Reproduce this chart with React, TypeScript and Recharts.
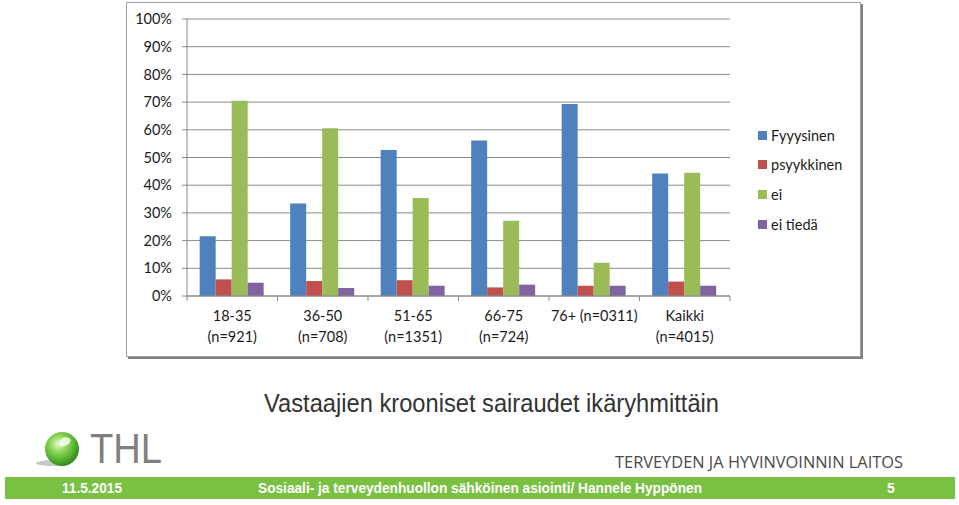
import React from "react";
import { BarChart, Bar, XAxis, YAxis, CartesianGrid } from "recharts";

// age groups (x axis), two-line labels
const groups = [
  "18-35\n(n=921)",
  "36-50\n(n=708)",
  "51-65\n(n=1351)",
  "66-75\n(n=724)",
  "76+ (n=0311)",
  "Kaikki\n(n=4015)",
];

// percent values
const fyysinen = [21.6, 33.4, 52.7, 56.1, 69.3, 44.2];
const psyykkinen = [6.0, 5.4, 5.7, 3.1, 3.7, 5.2];
const ei = [70.5, 60.6, 35.4, 27.2, 12.0, 44.5];
const eiTieda = [4.8, 2.9, 3.7, 4.1, 3.7, 3.7];

const yTicks = [0, 10, 20, 30, 40, 50, 60, 70, 80, 90, 100];

const series = [
  { key: "fyysinen", name: "Fyyysinen", color: "#4F81BD" },
  { key: "psyykkinen", name: "psyykkinen", color: "#C0504D" },
  { key: "ei", name: "ei", color: "#9BBB59" },
  { key: "eiTieda", name: "ei tiedä", color: "#8064A2" },
];

const data = groups.map((g, i) => ({
  group: g,
  fyysinen: fyysinen[i],
  psyykkinen: psyykkinen[i],
  ei: ei[i],
  eiTieda: eiTieda[i],
}));

const CHART_W = 735;
const CHART_H = 355;
const PLOT_W = 543;
const FONT = "Lato, 'Open Sans', sans-serif";
const GRID = "#8a8a8a";

function GroupTick(props: any) {
  const { x, y, payload, index, visibleTicksCount } = props;
  const half = PLOT_W / groups.length / 2;
  const lines = String(payload.value).split("\n");
  return (
    <g>
      <line x1={x - half} x2={x - half} y1={y} y2={y + 5} stroke={GRID} />
      {index === visibleTicksCount - 1 && (
        <line x1={x + half} x2={x + half} y1={y} y2={y + 5} stroke={GRID} />
      )}
      {lines.map((l, i) => (
        <text
          key={i}
          x={x}
          y={y + 25 + i * 21}
          textAnchor="middle"
          fontSize={14.5}
          fontFamily={FONT}
          fill="#1a1a1a"
        >
          {l}
        </text>
      ))}
    </g>
  );
}

export default function App() {
  return (
    <div
      style={{
        position: "absolute",
        left: 0,
        top: 0,
        width: 959,
        height: 505,
        background: "#fff",
        overflow: "hidden",
      }}
    >
      <div
        style={{
          position: "absolute",
          left: 126,
          top: 2,
          width: CHART_W,
          height: CHART_H,
          border: "1px solid #a0a0a0",
          boxShadow: "2px 2px 0 #808080",
          boxSizing: "border-box",
          background: "#fff",
        }}
      >
        <div style={{ position: "absolute", left: -1, top: -1 }}>
          <BarChart
            width={CHART_W}
            height={CHART_H}
            data={data}
            margin={{ top: 17, right: 131, left: 0, bottom: 0 }}
            barCategoryGap="14%"
            barGap={0}
          >
            <CartesianGrid horizontal vertical={false} stroke={GRID} strokeOpacity={1} />
            <XAxis
              dataKey="group"
              height={61}
              interval={0}
              axisLine={{ stroke: GRID }}
              tickLine={false}
              tickSize={0}
              tickMargin={0}
              tick={<GroupTick />}
            />
            <YAxis
              width={61}
              domain={[0, 100]}
              ticks={yTicks}
              interval={0}
              tickFormatter={(v: number) => `${v}%`}
              axisLine={{ stroke: GRID }}
              tickLine={{ stroke: GRID }}
              tickSize={5}
              tickMargin={10}
              tick={{ fontSize: 14.5, fill: "#1a1a1a", fontFamily: FONT }}
            />
            {series.map((s) => (
              <Bar
                key={s.key}
                dataKey={s.key}
                name={s.name}
                fill={s.color}
                isAnimationActive={false}
              />
            ))}
          </BarChart>
        </div>
        {series.map((s, i) => (
          <div
            key={s.key}
            style={{
              position: "absolute",
              left: 631,
              top: 122 + i * 29.8,
              height: 20,
              display: "flex",
              alignItems: "center",
              fontFamily: FONT,
              fontSize: 14.5,
              color: "#1a1a1a",
              whiteSpace: "nowrap",
            }}
          >
            <span
              style={{
                display: "inline-block",
                width: 9,
                height: 9,
                background: s.color,
                marginRight: 4,
              }}
            />
            {s.name}
          </div>
        ))}
      </div>

      <svg
        width={959}
        height={505}
        style={{ position: "absolute", left: 0, top: 0, pointerEvents: "none" }}
      >
        <defs>
          <radialGradient id="ball" cx="40%" cy="35%" r="70%">
            <stop offset="0%" stopColor="#e9f9d9" />
            <stop offset="35%" stopColor="#8fd65a" />
            <stop offset="75%" stopColor="#4aa82a" />
            <stop offset="100%" stopColor="#2f7d1c" />
          </radialGradient>
        </defs>
        <text
          x={264}
          y={412}
          fontFamily="'Liberation Sans', Arial, sans-serif"
          fontSize={26}
          fill="#333"
          textLength={455}
          lengthAdjust="spacingAndGlyphs"
        >
          Vastaajien krooniset sairaudet ikäryhmittäin
        </text>

        <ellipse cx={52} cy={463} rx={16} ry={3} fill="#c8c8c8" />
        <circle cx={62} cy={449} r={17} fill="url(#ball)" />
        <path d="M60 440 q6 -6 11 0 q-2 7 -11 6 z" fill="#f4fff0" opacity={0.85} />
        <text
          x={90}
          y={463}
          fontFamily="'Liberation Sans', Arial, sans-serif"
          fontSize={42}
          fill="#7f7f7f"
          textLength={72}
          lengthAdjust="spacingAndGlyphs"
        >
          THL
        </text>
        <text
          x={615}
          y={468}
          fontFamily="'Open Sans', 'DejaVu Sans', sans-serif"
          fontSize={17}
          fill="#4a4a4a"
          textLength={288}
          lengthAdjust="spacingAndGlyphs"
        >
          TERVEYDEN JA HYVINVOINNIN LAITOS
        </text>

        <rect x={5} y={477} width={950} height={22} fill="#7AC143" />
        <g
          fontFamily="'Liberation Sans', Arial, sans-serif"
          fontWeight="bold"
          fontSize={14}
          fill="#fff"
        >
          <text x={62} y={493} textLength={60} lengthAdjust="spacingAndGlyphs">
            11.5.2015
          </text>
          <text x={258} y={493} textLength={444} lengthAdjust="spacingAndGlyphs">
            Sosiaali- ja terveydenhuollon sähköinen asiointi/ Hannele Hyppönen
          </text>
          <text x={887} y={493}>
            5
          </text>
        </g>
      </svg>
    </div>
  );
}
